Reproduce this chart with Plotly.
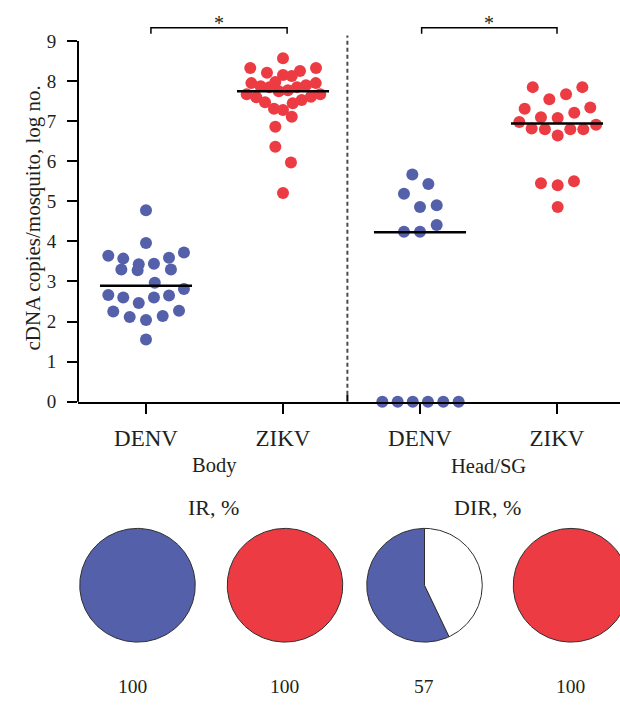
import numpy as np
import plotly.graph_objects as go

# ---------------- data ----------------
categories = ["DENV", "ZIKV", "DENV", "ZIKV"]
groups = ["Body", "Head/SG"]
y_ticks = [0, 1, 2, 3, 4, 5, 6, 7, 8, 9]

body_denv = [4.78, 3.96, 3.64, 3.57, 3.43, 3.44, 3.59, 3.72, 3.30, 3.28, 3.30, 2.97,
             2.66, 2.60, 2.46, 2.60, 2.65, 2.81, 2.25, 2.11, 2.04, 2.14, 2.27, 1.55]
body_denv_dx = [0, 0, -0.275, -0.166, -0.053, 0.058, 0.168, 0.277, -0.180, -0.061, 0.182, 0.064,
                -0.275, -0.166, -0.053, 0.058, 0.168, 0.277, -0.239, -0.119, 0, 0.122, 0.241, 0]

body_zikv = [8.57, 8.33, 8.21, 8.33, 8.25, 8.15, 8.13, 7.95, 7.98, 7.87, 7.85, 7.90, 7.95, 7.85,
             7.75, 7.77, 7.67, 7.60, 7.47, 7.31, 7.28, 7.11, 7.45, 7.53, 7.61, 7.67,
             6.86, 6.36, 5.97, 5.21]
body_zikv_dx = [0, -0.239, -0.117, 0.241, 0.124, 0, 0.064, -0.231, -0.056, -0.163, -0.100, 0.168, 0.239, 0.102,
                -0.031, 0.036, -0.265, -0.195, -0.131, -0.066, 0, 0.064, 0.071, 0.136, 0.204, 0.272,
                -0.056, -0.056, 0.058, 0]

head_denv = [5.67, 5.43, 5.19, 4.86, 4.90, 4.41, 4.24, 4.24, 0, 0, 0, 0, 0, 0]
head_denv_dx = [-0.056, 0.061, -0.117, 0, 0.122, 0.122, -0.117, 0,
                -0.275, -0.163, -0.053, 0.058, 0.170, 0.282]

head_zikv = [7.85, 7.85, 7.55, 7.67, 7.31, 7.34, 7.10, 7.08, 7.21, 6.98, 6.91, 6.82, 6.80,
             6.64, 6.80, 6.80, 5.45, 5.40, 5.50, 4.86]
head_zikv_dx = [-0.177, 0.185, -0.056, 0.066, -0.236, 0.243, -0.117, 0.005, 0.126, -0.275, 0.285,
                -0.185, -0.088, 0.005, 0.097, 0.192, -0.117, 0.005, 0.124, 0.005]

medians = [2.89, 7.75, 4.23, 6.94]
pie_titles = ["IR, %", "DIR, %"]
rate_values = [100, 100, 57, 100]
significance = ["*", "*"]

# ---------------- styling / geometry ----------------
BLUE = "#5460a9"
RED = "#ed3b44"
TXT = "#231f20"
FONT = "Liberation Serif"
W, H = 620, 707
AX_L = 78               # px of left edge of plotting area
X0PX, XU = 146, 137     # px of category 0, px per category
Y0PX, YU = 408, 40.7    # px of y=0, px per unit
YTOP = 9.8

def px2paper_x(sx):
    return sx / W

def px2paper_y(sy):
    return 1 - sy / H

series = [body_denv, body_zikv, head_denv, head_zikv]
offsets = [body_denv_dx, body_zikv_dx, head_denv_dx, head_zikv_dx]
colors = [BLUE, RED, BLUE, RED]

fig = go.Figure()

for i, (vals, dx, col) in enumerate(zip(series, offsets, colors)):
    fig.add_trace(go.Scatter(
        x=[i + d for d in dx], y=vals, mode="markers",
        marker=dict(size=12, color=col, line=dict(width=0)),
        cliponaxis=False, showlegend=False, hoverinfo="y"))

half = 0.336
for i, m in enumerate(medians):
    fig.add_trace(go.Scatter(
        x=[i - half, i + half], y=[m, m], mode="lines",
        line=dict(color="black", width=2.5), showlegend=False, hoverinfo="skip"))

# ---------------- pies (slices from rate_values) ----------------
pie_centers_px = [(137.5, 594.5), (285, 594.5), (424.5, 594.5), (571, 594.5)]
R = 57.75
for (cxp, cyp), v, col in zip(pie_centers_px, rate_values, colors):
    cx, cy = cxp, H - cyp
    fracs = [v / 100.0, 1 - v / 100.0]
    fills = [col, "white"]
    start = 0.0
    for f, fc in zip(fracs, fills):
        if f <= 0:
            continue
        th = np.linspace(start, start + f, max(int(f * 240), 8)) * 2 * np.pi
        xs = cx - R * np.sin(th)
        ys = cy + R * np.cos(th)
        if f < 0.9999:
            xs = np.concatenate([[cx], xs, [cx]])
            ys = np.concatenate([[cy], ys, [cy]])
        else:
            xs = np.append(xs, xs[0])
            ys = np.append(ys, ys[0])
        fig.add_trace(go.Scatter(
            x=xs, y=ys, xaxis="x2", yaxis="y2", mode="lines", fill="toself",
            fillcolor=fc, line=dict(color="#2e2e2e", width=1),
            showlegend=False, hoverinfo="skip"))
        start += f

# ---------------- shapes ----------------
shapes = []
shapes.append(dict(type="line", xref="x domain", yref="y", x0=0, x1=0, y0=-0.05, y1=9,
                   line=dict(color="black", width=2)))
DIV = 1.47
shapes.append(dict(type="line", xref="x", yref="y", x0=DIV, x1=DIV, y0=0.17, y1=9.14,
                   line=dict(color="#4a4a4a", width=2, dash="4px,3px")))
shapes.append(dict(type="line", xref="x", yref="y", x0=DIV, x1=DIV, y0=0, y1=0.17,
                   line=dict(color="black", width=2)))
brackets = [(0.036, 1.03), (2.012, 3.0)]
for (a, b) in brackets:
    shapes.append(dict(type="path", xref="x", yref="y",
                       path=f"M {a},9.18 L {a},9.33 L {b},9.33 L {b},9.18",
                       line=dict(color="black", width=1.5)))

def ann(**kw):
    d = dict(showarrow=False, xanchor="center", yanchor="middle")
    d.update(kw)
    return d

annotations = []
for (a, b), s in zip(brackets, significance):
    annotations.append(ann(x=(a + b) / 2, y=9.46, xref="x", yref="y", text=s,
                           font=dict(family=FONT, size=20, color=TXT)))
for k, g in enumerate(groups):
    annotations.append(ann(x=2 * k + 0.5, y=px2paper_y(473), xref="x", yref="paper", text=g,
                           font=dict(family=FONT, size=20.5, color=TXT)))
annotations.append(ann(x=px2paper_x(33), y=px2paper_y(222), xref="paper", yref="paper",
                       text="cDNA copies/mosquito, log no.", textangle=-90,
                       font=dict(family=FONT, size=21, color=TXT)))
for t, xp in zip(pie_titles, [213.8, 487.5]):
    annotations.append(ann(x=px2paper_x(xp), y=px2paper_y(516), xref="paper", yref="paper",
                           text=t, font=dict(family=FONT, size=22, color=TXT)))
for v, xp in zip(rate_values, [132.8, 284, 423.7, 570]):
    annotations.append(ann(x=px2paper_x(xp), y=px2paper_y(697), xref="paper", yref="paper",
                           text=str(v), font=dict(family=FONT, size=19.5, color=TXT)))

fig.update_layout(
    width=W, height=H, margin=dict(l=0, r=0, t=0, b=0),
    paper_bgcolor="white", plot_bgcolor="white",
    font=dict(family=FONT, color=TXT),
    shapes=shapes, annotations=annotations,
    xaxis=dict(domain=[px2paper_x(AX_L), 1],
               range=[(AX_L - X0PX) / XU, (W - X0PX) / XU],
               tickvals=[0, 1, 2, 3], ticktext=categories,
               showline=True, linecolor="black", linewidth=2,
               ticks="outside", ticklen=10, tickwidth=2, tickcolor="black",
               showgrid=False, zeroline=False, ticklabelstandoff=5,
               tickfont=dict(family=FONT, size=23, color=TXT)),
    yaxis=dict(domain=[px2paper_y(Y0PX), px2paper_y(Y0PX - YTOP * YU)],
               range=[0, YTOP], tickvals=y_ticks,
               showline=False, ticks="outside", ticklen=10, tickwidth=2, tickcolor="black",
               showgrid=False, zeroline=False, ticklabelstandoff=7,
               tickfont=dict(family=FONT, size=19, color=TXT)),
    xaxis2=dict(domain=[0, 1], range=[0, W], visible=False, anchor="y2", fixedrange=True),
    yaxis2=dict(domain=[0, 0.3], range=[0, 0.3 * H], visible=False, anchor="x2", fixedrange=True),
)

# the page body has a default 8px margin; remove it so the 620x707 figure fills the window
fig.write_html("out.html", post_script="document.body.style.margin='0px';",
               config={"displayModeBar": False})
